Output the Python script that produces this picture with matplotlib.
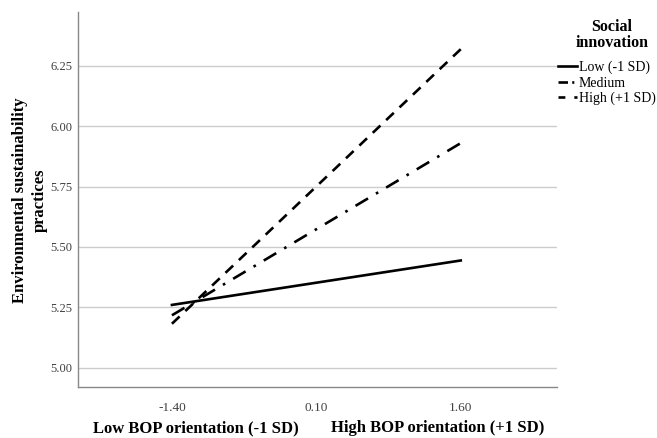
import numpy as np
import matplotlib.pyplot as plt
from matplotlib.lines import Line2D

bop = [-1.40, 1.60]
low = [5.26, 5.444]
medium = [5.217, 5.93]
high = [5.182, 6.319]
yticks = [5.00, 5.25, 5.50, 5.75, 6.00, 6.25]
xticks = [-1.40, 0.10, 1.60]
labels = ['Low (-1 SD)', 'Medium', 'High (+1 SD)']

plt.rcParams['font.family'] = ['Liberation Serif', 'DejaVu Serif']

fig = plt.figure(figsize=(6.57, 4.38), dpi=100)
ax = fig.add_axes([0.1187, 0.1164, 0.7291, 0.8562])

lw = 1.9
ax.plot(bop, low, color='black', linewidth=lw, linestyle='-')
ax.plot(bop, medium, color='black', linewidth=lw, linestyle=(0, (5.5, 3.5, 1, 3.5)))
ax.plot(bop, high, color='black', linewidth=lw, linestyle=(0, (4, 3)))

ax.set_xlim(-2.376, 2.6)
ax.set_ylim(4.92, 6.473)
ax.set_xticks(xticks)
ax.set_xticklabels(['%.2f' % v for v in xticks], fontsize=9.5, color='#404040')
ax.set_yticks(yticks)
ax.set_yticklabels(['%.2f' % v for v in yticks], fontsize=9, color='#404040')
ax.tick_params(length=0)
ax.tick_params(axis='y', pad=4)
ax.tick_params(axis='x', pad=11)
ax.yaxis.grid(True, color='#cccccc', linewidth=1)
ax.set_axisbelow(True)
for s in ['top', 'right']:
    ax.spines[s].set_visible(False)
for s in ['left', 'bottom']:
    ax.spines[s].set_color('#888888')
    ax.spines[s].set_linewidth(1)

fig.text(0.0455, 0.543, 'Environmental sustainability\npractices', rotation=90,
         ha='center', va='center', fontsize=12, fontweight='bold', linespacing=1.35)
fig.text(196 / 657, 0.023, 'Low BOP orientation (-1 SD)', ha='center', va='center',
         fontsize=12, fontweight='bold')
fig.text(438 / 657, 0.023, 'High BOP orientation (+1 SD)', ha='center', va='center',
         fontsize=12, fontweight='bold')

# legend: title as separate text, short proxy handles
fig.text(612 / 657, 1 - 35 / 438, 'Social\ninnovation', ha='center', va='center',
         multialignment='center', fontsize=11.5, fontweight='bold', linespacing=1.05)
proxies = [
    Line2D([], [], color='black', linewidth=lw, linestyle='-'),
    Line2D([], [], color='black', linewidth=lw, linestyle=(0, (3.6, 1.6, 0.8, 1.6))),
    Line2D([], [], color='black', linewidth=lw, linestyle=(0, (2.6, 3.4, 1.2, 3))),
]
leg = ax.legend(proxies, labels, loc='upper left',
                bbox_to_anchor=(558 / 657, 1 - 61 / 438), bbox_transform=fig.transFigure,
                frameon=False, fontsize=10, handlelength=1.35, handletextpad=0.15,
                labelspacing=0.15, borderaxespad=0, borderpad=0)

fig.savefig('out.png', dpi=100)
